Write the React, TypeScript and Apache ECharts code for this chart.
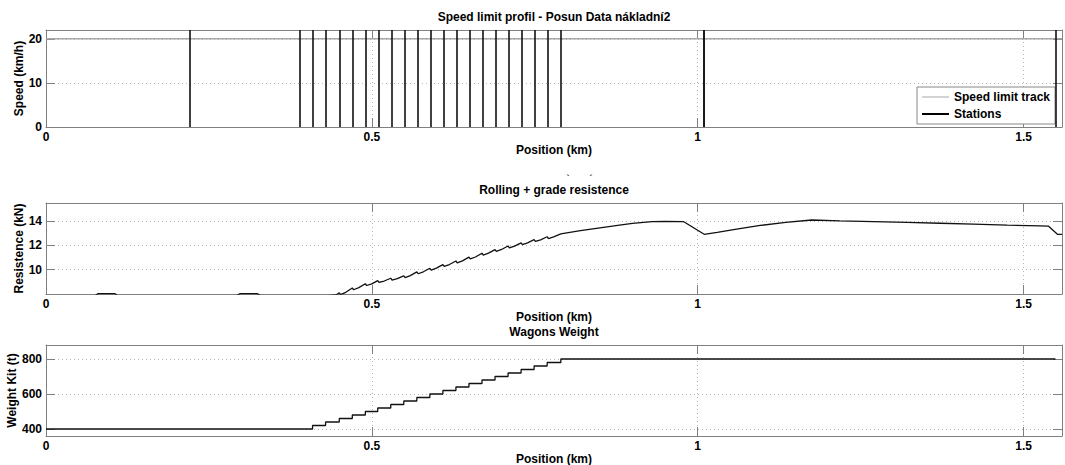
import React, { useEffect, useRef } from "react";
import * as echarts from "echarts";

// ---------- data ----------
const XMAX = 1.559;

const stations = [
  0.219, 0.389, 0.409, 0.429, 0.45, 0.47, 0.49, 0.509, 0.529, 0.549, 0.569,
  0.589, 0.609, 0.629, 0.649, 0.669, 0.689, 0.709, 0.729, 0.749, 0.769, 0.79,
  1.0085, 1.0105, 1.549,
];

const speedPos = [0, 1.559];
const speedVal = [20, 20];

const resPos = [
  0, 0.075, 0.08, 0.106, 0.11, 0.2, 0.292, 0.298, 0.324, 0.33, 0.389, 0.409, 0.429, 0.445,
  0.45, 0.452, 0.46,
  0.47, 0.472, 0.48,
  0.49, 0.492, 0.5,
  0.509, 0.511, 0.519,
  0.529, 0.531, 0.539,
  0.549, 0.551, 0.559,
  0.569, 0.571, 0.579,
  0.589, 0.591, 0.599,
  0.609, 0.611, 0.619,
  0.629, 0.631, 0.639,
  0.649, 0.651, 0.659,
  0.669, 0.671, 0.679,
  0.689, 0.691, 0.699,
  0.709, 0.711, 0.719,
  0.729, 0.731, 0.739,
  0.749, 0.751, 0.759,
  0.769, 0.771, 0.779,
  0.79, 0.82, 0.85, 0.88, 0.9, 0.93, 0.95, 0.978, 1.01, 1.03, 1.055, 1.096, 1.135,
  1.175, 1.218, 1.27, 1.321, 1.372, 1.423, 1.475, 1.525, 1.538, 1.552, 1.559,
];
const resVal = [
  7.7, 7.85, 8.03, 8.03, 7.85, 7.8, 7.85, 8.03, 8.03, 7.85, 7.7, 7.75, 7.85, 7.92,
  8.1, 7.95, 8.14,
  8.5, 8.35, 8.53,
  8.85, 8.7, 8.84,
  9.1, 8.95, 9.07,
  9.3, 9.15, 9.27,
  9.5, 9.35, 9.51,
  9.82, 9.67, 9.83,
  10.12, 9.97, 10.13,
  10.42, 10.27, 10.43,
  10.72, 10.57, 10.73,
  11.04, 10.89, 11.05,
  11.36, 11.21, 11.37,
  11.66, 11.51, 11.67,
  11.96, 11.81, 11.95,
  12.22, 12.07, 12.21,
  12.48, 12.33, 12.46,
  12.72, 12.57, 12.7,
  12.95, 13.22, 13.45, 13.68, 13.82, 13.96, 13.98, 13.97, 12.92, 13.08, 13.3, 13.65, 13.9,
  14.1, 14.03, 13.97, 13.9, 13.83, 13.76, 13.68, 13.62, 13.6, 12.92, 12.92,
];

const weightPos = [
  0, 0.409, 0.429, 0.45, 0.47, 0.49, 0.509, 0.529, 0.549, 0.569, 0.589, 0.609,
  0.629, 0.649, 0.669, 0.689, 0.709, 0.729, 0.749, 0.769, 0.79, 1.549,
];
const weightVal = [
  400, 420, 440, 460, 480, 500, 520, 540, 560, 580, 600, 620, 640, 660, 680,
  700, 720, 740, 760, 780, 800, 800,
];

const titles = [
  "Speed limit profil - Posun Data nákladní2",
  "Rolling + grade resistence",
  "Wagons Weight",
];
const yNames = ["Speed (km/h)", "Resistence (kN)", "Weight Kit (t)"];
const xName = "Position (km)";

// ---------- styles ----------
const FONT = "'Liberation Sans', Arial, Helvetica, sans-serif";
const AX = "#808080";
const GRIDC = "#b4b4b4";
const txt = { fontFamily: FONT, fontWeight: "bold" as const, fontSize: 12, color: "#000" };

const grids = [
  { left: 46, width: 1016, top: 30, height: 97 },
  { left: 46, width: 1016, top: 203, height: 91 },
  { left: 46, width: 1016, top: 345, height: 91 },
];

// legend icons: line sample drawn inside a 27x14 box (tiny corner points fix the box)
const thinIcon =
  "path://M0,0L0.01,0L0,0.01Z M0,6.5L27,6.5L27,7.5L0,7.5Z M26.99,14L27,14L27,13.99Z";
const thickIcon =
  "path://M0,0L0.01,0L0,0.01Z M0,6L27,6L27,8L0,8Z M26.99,14L27,14L27,13.99Z";

function xAxesFor(gi: number) {
  return [
    {
      type: "value", gridIndex: gi, min: 0, max: XMAX, interval: 0.5, position: "bottom",
      name: xName, nameLocation: "middle", nameGap: 17, nameTextStyle: txt, nameMoveOverlap: false,
      axisLine: { show: true, onZero: false, lineStyle: { color: AX, width: 1 } },
      axisTick: { show: true, inside: true, length: 9, lineStyle: { color: AX } },
      axisLabel: { show: true, margin: 4, showMaxLabel: false, ...txt, formatter: (v: number) => String(v) },
      splitLine: { show: true, lineStyle: { color: GRIDC, type: [1, 3], width: 1 } },
    },
    {
      type: "value", gridIndex: gi, min: 0, max: XMAX, interval: 0.5, position: "top",
      axisLine: { show: true, onZero: false, lineStyle: { color: AX, width: 1 } },
      axisTick: { show: true, inside: true, length: 9, lineStyle: { color: AX } },
      axisLabel: { show: false },
      splitLine: { show: false },
    },
  ];
}

function yAxesFor(gi: number, scale: any, nameGap: number) {
  return [
    {
      type: "value", gridIndex: gi, position: "left", ...scale,
      name: yNames[gi], nameLocation: "middle", nameGap, nameTextStyle: txt, nameMoveOverlap: false,
      axisLine: { show: true, onZero: false, lineStyle: { color: AX, width: 1 } },
      axisTick: { show: true, inside: true, length: 9, lineStyle: { color: AX } },
      axisLabel: { show: true, margin: 4, showMaxLabel: false, showMinLabel: gi === 0, ...txt },
      splitLine: { show: true, lineStyle: { color: GRIDC, type: [1, 3], width: 1 } },
    },
    {
      type: "value", gridIndex: gi, position: "right", ...scale,
      axisLine: { show: true, onZero: false, lineStyle: { color: AX, width: 1 } },
      axisTick: { show: true, inside: true, length: 9, lineStyle: { color: AX } },
      axisLabel: { show: false },
      splitLine: { show: false },
    },
  ];
}

export default function App() {
  const ref = useRef<HTMLDivElement>(null);
  useEffect(() => {
    if (!ref.current) return;
    const chart = echarts.init(ref.current, undefined, { renderer: "svg" });
    const zip = (a: number[], b: number[]) => a.map((x, i) => [x, b[i]]);
    const option: any = {
      animation: false,
      backgroundColor: "#fff",
      grid: grids.map((g) => ({ ...g, containLabel: false, outerBoundsMode: "none", show: false })),
      xAxis: [...xAxesFor(0), ...xAxesFor(1), ...xAxesFor(2)],
      yAxis: [
        ...yAxesFor(0, { min: 0, max: 22, interval: 10 }, 21),
        ...yAxesFor(1, { min: 8, max: 15.5, interval: 2 }, 21),
        ...yAxesFor(2, { min: 360, max: 880, splitNumber: 3 }, 28),
      ],
      legend: {
        show: true, orient: "vertical", left: 917, top: 87,
        data: [
          { name: "Speed limit track", icon: thinIcon, itemStyle: { color: "#a8a8a8" } },
          { name: "Stations", icon: thickIcon, itemStyle: { color: "#000" } },
        ],
        itemWidth: 27, itemHeight: 14, itemGap: 3, padding: [3, 5, 3, 5],
        borderColor: "#888", borderWidth: 1, backgroundColor: "#fff", borderRadius: 0,
        textStyle: txt, selectedMode: false,
      },
      graphic: [
        ...titles.map((t, i) => ({
          type: "text", x: 554, y: [17, 190, 332][i],
          style: { text: t, fill: "#000", font: `bold 12px ${FONT}`, textAlign: "center", textVerticalAlign: "middle" },
        })),
        { type: "text", x: 568, y: 178, style: { text: "`", fill: "#333", font: `bold 9px ${FONT}`, textAlign: "center", textVerticalAlign: "middle" } },
        { type: "text", x: 591, y: 178, style: { text: "´", fill: "#333", font: `bold 9px ${FONT}`, textAlign: "center", textVerticalAlign: "middle" } },
      ],
      series: [
        {
          name: "Speed limit track", type: "line", xAxisIndex: 0, yAxisIndex: 0,
          data: zip(speedPos, speedVal), symbol: "none", showSymbol: false, color: "#a8a8a8",
          lineStyle: { color: "#a8a8a8", width: 1.5 }, silent: true, z: 2,
        },
        {
          name: "Stations", type: "line", xAxisIndex: 0, yAxisIndex: 0,
          data: [], symbol: "none", showSymbol: false, color: "#000",
          lineStyle: { color: "#000", width: 2 }, z: 3,
          markLine: {
            silent: true, symbol: ["none", "none"], label: { show: false },
            lineStyle: { color: "#111", width: 1.6, type: "solid" },
            emphasis: { disabled: true },
            data: stations.map((s) => ({ xAxis: s })),
          },
        },
        {
          name: "Resistance", type: "line", xAxisIndex: 2, yAxisIndex: 2,
          data: zip(resPos, resVal), symbol: "none", color: "#000",
          lineStyle: { color: "#111", width: 1.3 }, silent: true, clip: true,
        },
        {
          name: "Weight", type: "line", xAxisIndex: 4, yAxisIndex: 4, step: "end",
          data: zip(weightPos, weightVal), symbol: "none", color: "#000",
          lineStyle: { color: "#111", width: 1.3 }, silent: true,
        },
      ],
    };
    chart.setOption(option);
    return () => chart.dispose();
  }, []);
  return (
    <div
      ref={ref}
      style={{ position: "fixed", left: 0, top: 0, width: 1065, height: 465, background: "#fff" }}
    />
  );
}
